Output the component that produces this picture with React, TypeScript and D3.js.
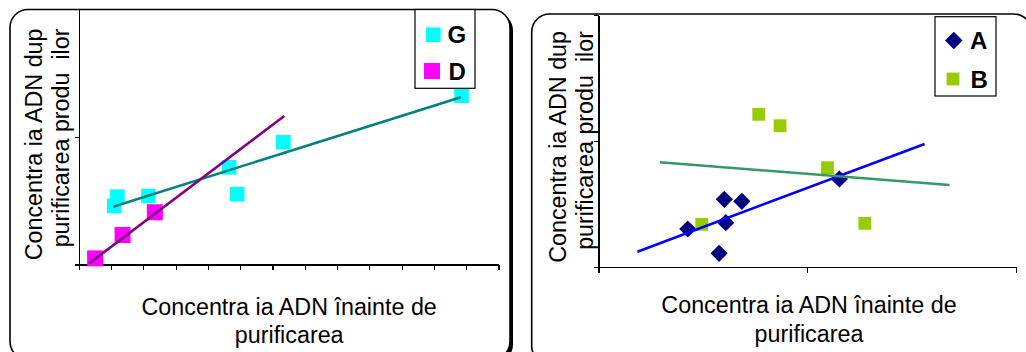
import React from 'react';
import * as d3 from 'd3';

// Left chart: series G and D
const gX = [10.8, 11.8, 21.4, 46.4, 48.9, 63.2, 118.4];
const gY = [46.2, 53.5, 54.0, 76.5, 55.4, 96.1, 132.6];
const dX = [4.9, 13.4, 23.4];
const dY = [5.2, 23.5, 41.3];
// trend line end points
const gTrendX = [10.5, 118.2];
const gTrendY = [45.7, 131.3];
const dTrendX = [3.1, 63.5];
const dTrendY = [1.3, 116.7];

// Right chart: series A and B
const aX = [0.425, 0.6, 0.684, 0.607, 0.575, 1.151];
const aY = [0.307, 0.543, 0.527, 0.357, 0.114, 0.704];
const bX = [0.492, 0.765, 0.867, 1.094, 1.273];
const bY = [0.344, 1.217, 1.127, 0.794, 0.352];
const aTrendX = [0.184, 1.559];
const aTrendY = [0.127, 0.982];
const bTrendX = [0.292, 1.678];
const bTrendY = [0.837, 0.656];

const leftXTicks = [0, 10, 20, 30, 40, 50, 60, 70, 80, 90, 100, 110, 120, 130];
const leftYTicks = [0, 100, 200];
const rightXTicks = [0, 1, 2];
const rightYTicks = [0, 1, 2];

const yTitle = ['Concentra ia ADN dup', 'purificarea produ\u00a0 ilor'];
const xTitle = ['Concentra ia ADN înainte de', 'purificarea'];

const FONT = '"Liberation Sans", Arial, Helvetica, sans-serif';

const lx = d3.scaleLinear().domain([0, 130]).range([79.3, 499]);
const ly = d3.scaleLinear().domain([0, 200]).range([265, 9.6]);
const rx = d3.scaleLinear().domain([0, 2]).range([599, 1016.7]);
const ry = d3.scaleLinear().domain([0, 2]).range([267.7, 15.7]);

const diamond = (x: number, y: number, h: number) =>
  `M${x},${y - h}L${x + h},${y}L${x},${y + h}L${x - h},${y}Z`;

const Frame = ({ x, y, w, h }: { x: number; y: number; w: number; h: number }) => (
  <g>
    <rect x={x + 3} y={y + 3} width={w} height={h} rx={18} fill="#000" />
    <rect x={x} y={y} width={w} height={h} rx={18} fill="#fff" stroke="#000" strokeWidth={1.6} />
  </g>
);

const Axes = ({ xs, ys, xt, yt, tick }: any) => {
  const [x0, x1] = xs.range();
  const [y0, y1] = ys.range();
  return (
    <g stroke="#000" strokeWidth={1.2} shapeRendering="crispEdges">
      <line x1={x0} x2={x0} y1={y0} y2={y1} />
      <line x1={x0} x2={x1} y1={y0} y2={y0} />
      {xt.map((t: number) => (
        <line key={'x' + t} x1={xs(t)} x2={xs(t)} y1={y0} y2={y0 + tick} />
      ))}
      {yt.map((t: number) => (
        <line key={'y' + t} x1={x0 - tick} x2={x0} y1={ys(t)} y2={ys(t)} />
      ))}
    </g>
  );
};

const Titles = ({ yx, ytop, xc, xb }: { yx: number[]; ytop: number; xc: number; xb: number[] }) => (
  <g fontFamily={FONT} fontSize={23.3} fill="#000">
    {yTitle.map((t, i) => (
      <text key={'y' + i} transform={`translate(${yx[i]},${ytop}) rotate(-90)`} textAnchor="end">
        {t}
      </text>
    ))}
    {xTitle.map((t, i) => (
      <text key={'x' + i} x={xc} y={xb[i]} textAnchor="middle">
        {t}
      </text>
    ))}
  </g>
);

const trendPath = (xs: any, ys: any, tx: number[], ty: number[]) =>
  d3.line<number>().x((d) => xs(tx[d])).y((d) => ys(ty[d]))([0, 1]) as string;

export default function App() {
  return (
    <svg
      width={1026}
      height={352}
      viewBox="0 0 1026 352"
      style={{ position: 'absolute', left: 0, top: 0, background: '#fff' }}
    >
      {/* left chart */}
      <Frame x={10} y={9.5} w={500} h={350} />
      <Titles yx={[41.7, 68.5]} ytop={28.5} xc={289.2} xb={[315, 343]} />
      <Axes xs={lx} ys={ly} xt={leftXTicks} yt={leftYTicks} tick={4.5} />
      {gX.map((v, i) => (
        <rect key={'g' + i} x={lx(v) - 7.3} y={ly(gY[i]) - 7.3} width={14.6} height={14.6} fill="#00FFFF" />
      ))}
      {dX.map((v, i) => (
        <rect key={'d' + i} x={lx(v) - 8} y={ly(dY[i]) - 8} width={16} height={16} fill="#FF00FF" />
      ))}
      <path d={trendPath(lx, ly, gTrendX, gTrendY)} stroke="#008080" strokeWidth={2.6} fill="none" />
      <path d={trendPath(lx, ly, dTrendX, dTrendY)} stroke="#800080" strokeWidth={2.6} fill="none" />
      <g>
        <rect x={415} y={9.5} width={60} height={78.8} fill="#fff" stroke="#000" strokeWidth={1.2} />
        <rect x={426} y={27.4} width={14.6} height={14.6} fill="#00FFFF" />
        <rect x={424} y={63} width={16} height={16} fill="#FF00FF" />
        <text x={447.5} y={43.3} fontFamily={FONT} fontWeight="bold" fontSize={24}>G</text>
        <text x={448.5} y={80} fontFamily={FONT} fontWeight="bold" fontSize={24}>D</text>
      </g>

      {/* right chart */}
      <Frame x={531.7} y={14} w={500} h={350} />
      <Titles yx={[566, 593]} ytop={31} xc={809} xb={[312.7, 341.5]} />
      <Axes xs={rx} ys={ry} xt={rightXTicks} yt={rightYTicks} tick={5} />
      {aX.map((v, i) => (
        <path key={'a' + i} d={diamond(rx(v), ry(aY[i]), 8.6)} fill="#000080" />
      ))}
      {bX.map((v, i) => (
        <rect key={'b' + i} x={rx(v) - 6.4} y={ry(bY[i]) - 6.4} width={12.8} height={12.8} fill="#99CC00" />
      ))}
      <path d={trendPath(rx, ry, aTrendX, aTrendY)} stroke="#0000FF" strokeWidth={2.6} fill="none" />
      <path d={trendPath(rx, ry, bTrendX, bTrendY)} stroke="#339966" strokeWidth={2.6} fill="none" />
      <g>
        <rect x={935} y={16.7} width={61} height={79.3} fill="#fff" stroke="#000" strokeWidth={1.2} />
        <path d={diamond(953.8, 40.5, 8.8)} fill="#000080" />
        <rect x={946.6} y={72.6} width={12.8} height={12.8} fill="#99CC00" />
        <text x={970} y={49.3} fontFamily={FONT} fontWeight="bold" fontSize={24}>A</text>
        <text x={970.5} y={88.3} fontFamily={FONT} fontWeight="bold" fontSize={24}>B</text>
      </g>
    </svg>
  );
}
